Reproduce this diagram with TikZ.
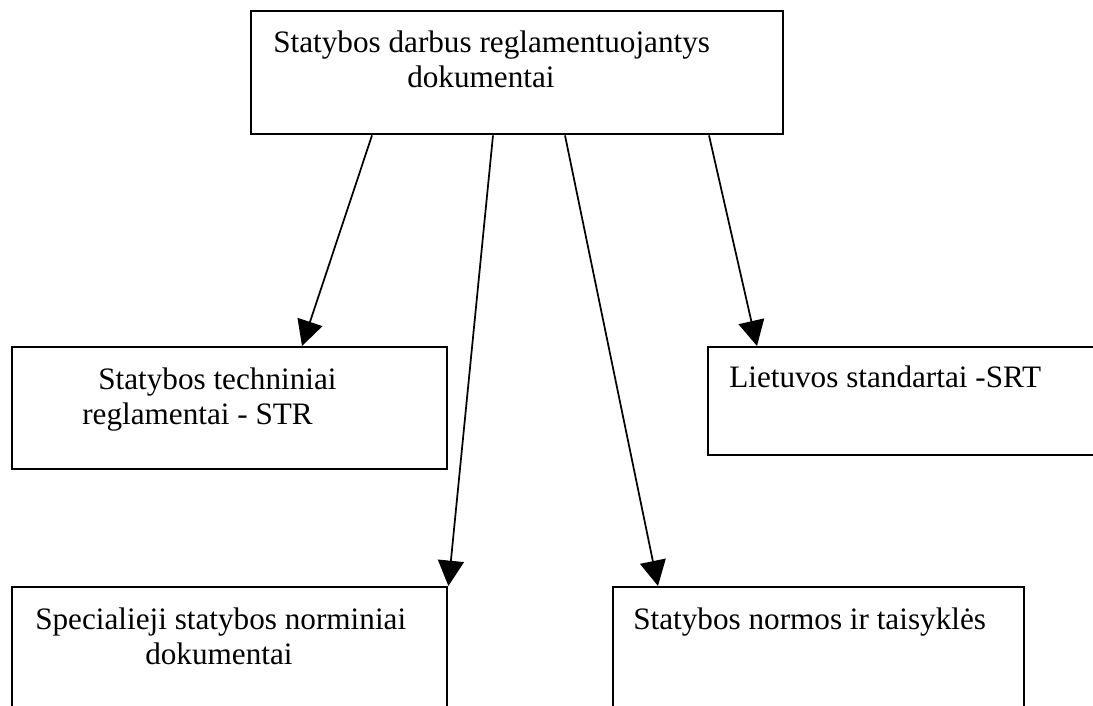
\documentclass[tikz,border=0pt]{standalone}
\usepackage{fontspec}
\setmainfont{Liberation Serif}
\usetikzlibrary{arrows.meta,calc}
\tikzset{
  boxnode/.style={draw=black,line width=1.8pt,rectangle,inner sep=0pt,anchor=north west,fill=none},
  lbl/.style={anchor=base west,inner sep=0pt,font=\fontsize{23.4pt}{27pt}\selectfont},
  arr/.style={draw=black,line width=1.3pt,-{Triangle[length=19pt,width=19.5pt]}}
}
\begin{document}
\begin{tikzpicture}[x=0.75pt,y=-0.75pt]
\useasboundingbox (0,0) rectangle (1093,706);
\clip (0,0) rectangle (1093,706);
\fill[white] (0,0) rectangle (1093,706);
% boxes
\node[boxnode,minimum width=399pt,minimum height=92.25pt] (top) at (250,10) {};
\node[boxnode,minimum width=326.25pt,minimum height=91.5pt] (str) at (11,346) {};
\node[boxnode,minimum width=302.25pt,minimum height=81pt] (srt) at (707,346) {};
\node[boxnode,minimum width=326.25pt,minimum height=108pt] (spec) at (11,586) {};
\node[boxnode,minimum width=308.25pt,minimum height=108pt] (norm) at (612,586) {};
% texts
\node[lbl] (t1) at (273,53) {Statybos darbus reglamentuojantys};
\node[lbl] (t2) at (407,88) {dokumentai};
\node[lbl] (s1) at (98,389) {Statybos techniniai};
\node[lbl] (s2) at (82,424) {reglamentai - STR};
\node[lbl] (r1) at (729,387) {Lietuvos standartai -SRT};
\node[lbl] (p1) at (35,629) {Specialieji statybos norminiai};
\node[lbl] (p2) at (145,664) {dokumentai};
\node[lbl] (n1) at (633,629) {Statybos normos ir taisyklės};
% connectors
\draw[arr] ($(top.south west)+(122,0)$) -- ($(str.north west)+(291,0)$);
\draw[arr] ($(top.south west)+(243,0)$) -- (spec.north east);
\draw[arr] ($(top.south west)+(315,0)$) -- ($(norm.north west)+(46,0)$);
\draw[arr] ($(top.south west)+(459,0)$) -- ($(srt.north west)+(50,0)$);
\end{tikzpicture}
\end{document}
